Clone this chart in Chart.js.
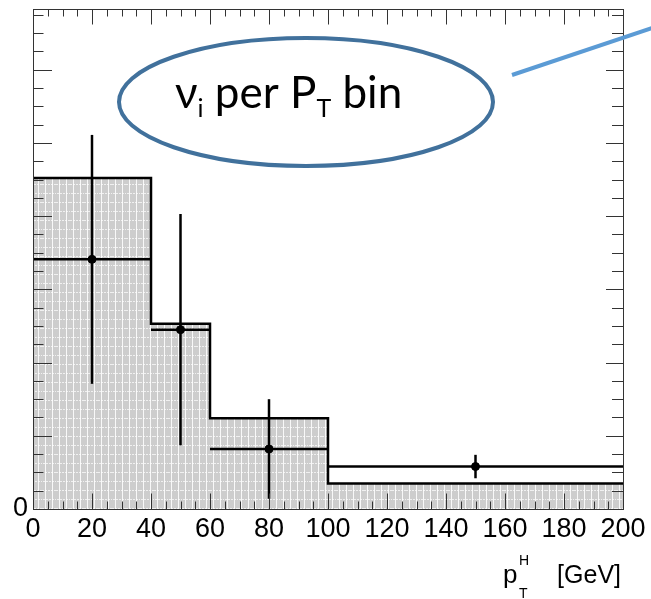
<!DOCTYPE html>
<html>
<head>
<meta charset="utf-8">
<script src="https://cdn.jsdelivr.net/npm/chart.js@4.4.1/dist/chart.umd.min.js"></script>
<style>
  html, body { margin: 0; padding: 0; background: #fff; }
  #wrap { width: 651px; height: 599px; }
</style>
</head>
<body>
<div id="wrap"><canvas id="myChart" width="651" height="599"></canvas></div>
<script>
// histogram bins (pT in GeV) and their heights
const binEdges = [0, 40, 60, 100, 200];
const binHeights = [4.52, 2.53, 1.24, 0.35];

// data points with errors
const pointX = [20, 50, 80, 150];
const pointY = [3.41, 2.45, 0.82, 0.58];
const pointErr = [1.70, 1.58, 0.68, 0.16];

// tick labels
const xTickValues = [0, 20, 40, 60, 80, 100, 120, 140, 160, 180, 200];
const yTickValues = [0];

const yMax = 6.83;

// grey fill with white dotted grid, like the ROOT fill style
function makePattern() {
    const c = document.createElement('canvas');
    c.width = 14;
    c.height = 18;
    const g = c.getContext('2d');
    g.fillStyle = '#cdcdcd';
    g.fillRect(0, 0, 14, 18);
    g.fillStyle = 'rgba(255,255,255,0.85)';
    g.fillRect(3, 0, 1, 18);
    g.fillRect(10, 0, 1, 18);
    g.fillStyle = 'rgba(255,255,255,0.7)';
    for (let x = 0; x < 14; x += 3) {
        g.fillRect(x, 4, 2, 1);
        g.fillRect(x + 1, 13, 2, 1);
    }
    return g.createPattern(c, 'repeat');
}

const histData = binEdges.map((e, i) => ({x: e, y: binHeights[Math.min(i, binHeights.length - 1)]}));

const datasets = [{
    type: 'line',
    data: histData,
    stepped: 'before',
    fill: 'origin',
    backgroundColor: makePattern(),
    borderColor: '#000',
    borderWidth: 2.5,
    pointRadius: 0,
    order: 3
}];

// error bars: horizontal = bin width, vertical = +-err
pointX.forEach((px, i) => {
    datasets.push({
        type: 'line',
        data: [{x: binEdges[i], y: pointY[i]}, {x: binEdges[i + 1], y: pointY[i]}],
        borderColor: '#000', borderWidth: 2.5, pointRadius: 0, fill: false, order: 2
    });
    datasets.push({
        type: 'line',
        data: [{x: px, y: pointY[i] - pointErr[i]}, {x: px, y: pointY[i] + pointErr[i]}],
        borderColor: '#000', borderWidth: 2.5, pointRadius: 0, fill: false, order: 2
    });
});

datasets.push({
    type: 'scatter',
    data: pointX.map((px, i) => ({x: px, y: pointY[i]})),
    backgroundColor: '#000',
    borderColor: '#000',
    pointRadius: 4,
    order: 1
});

// inward ticks on all four sides + frame
const framePlugin = {
    id: 'frame',
    afterDatasetsDraw(chart) {
        const {ctx, chartArea: a, scales: {x, y}} = chart;
        ctx.save();
        ctx.strokeStyle = '#333';
        ctx.lineWidth = 1;
        ctx.beginPath();
        for (let v = 0; v <= 200; v += 5) {
            const px = Math.round(x.getPixelForValue(v)) + 0.5;
            const len = v % 20 === 0 ? 15.5 : 7.5;
            ctx.moveTo(px, a.bottom);
            ctx.lineTo(px, a.bottom - len);
            ctx.moveTo(px, a.top);
            ctx.lineTo(px, a.top + len);
        }
        for (let k = 0; k * 0.25 <= yMax; k++) {
            const py = Math.round(y.getPixelForValue(k * 0.25)) + 0.5;
            const major = k % 4 === 0;
            ctx.moveTo(a.left, py);
            ctx.lineTo(a.left + (major ? 19 : 10.5), py);
            ctx.moveTo(a.right, py);
            ctx.lineTo(a.right - (major ? 17 : 11), py);
        }
        ctx.stroke();
        ctx.strokeRect(Math.round(a.left) + 0.5, Math.round(a.top) + 0.5,
            Math.round(a.right - a.left), Math.round(a.bottom - a.top));
        ctx.restore();
    },
    afterDraw(chart) {
        const ctx = chart.ctx;
        ctx.save();
        // callout line
        ctx.strokeStyle = '#5b9bd5';
        ctx.lineWidth = 4;
        ctx.beginPath();
        ctx.moveTo(512, 75);
        ctx.lineTo(655, 27);
        ctx.stroke();
        // ellipse
        ctx.strokeStyle = '#41719c';
        ctx.lineWidth = 4;
        ctx.beginPath();
        ctx.ellipse(306, 102, 187, 64, 0, 0, Math.PI * 2);
        ctx.stroke();
        // label
        ctx.fillStyle = '#000';
        ctx.textBaseline = 'alphabetic';
        const segs = [['ν', 44, 0], ['i', 25, 9], [' per P', 44, 0], ['T', 25, 9], [' bin', 44, 0]];
        let tx = 175;
        segs.forEach(([t, size, dy]) => {
            ctx.font = size + 'px Lato';
            ctx.fillText(t, tx, 108 + dy);
            tx += ctx.measureText(t).width;
        });
        // x axis title
        ctx.font = '26px "Liberation Sans"';
        ctx.fillText('p', 503, 583);
        ctx.font = '14px "Liberation Sans"';
        ctx.fillText('H', 519, 565);
        ctx.fillText('T', 519, 598);
        ctx.font = '25px "Liberation Sans"';
        ctx.textAlign = 'right';
        ctx.fillText('[GeV]', 621, 583);
        ctx.restore();
    }
};

const myChart = new Chart(
    document.getElementById('myChart'),
    {
        data: {datasets: datasets},
        options: {
            responsive: false,
            animation: false,
            devicePixelRatio: 1,
            layout: {autoPadding: false, padding: {top: 9, right: 28, left: 0, bottom: 0}},
            plugins: {legend: {display: false}, tooltip: {enabled: false}},
            scales: {
                x: {
                    type: 'linear',
                    min: 0,
                    max: 200,
                    afterBuildTicks: s => { s.ticks = xTickValues.map(v => ({value: v})); },
                    afterFit: s => { s.height = 90; },
                    grid: {display: false, drawTicks: false},
                    border: {display: false},
                    ticks: {
                        color: '#000',
                        padding: 4,
                        maxRotation: 0,
                        autoSkip: false,
                        font: {family: 'Liberation Sans', size: 27}
                    }
                },
                y: {
                    type: 'linear',
                    min: 0,
                    max: yMax,
                    // keep a blank top tick so no label padding is added above the plot
                    afterBuildTicks: s => { s.ticks = [...yTickValues, yMax].map(v => ({value: v})); },
                    afterFit: s => { s.width = 33; s.paddingTop = 0; },
                    grid: {display: false, drawTicks: false},
                    border: {display: false},
                    ticks: {
                        color: '#000',
                        padding: 5,
                        callback: v => yTickValues.includes(v) ? String(v) : null,
                        font: {family: 'Liberation Sans', size: 27}
                    }
                }
            }
        },
        plugins: [framePlugin]
    }
);
</script>
</body>
</html>
